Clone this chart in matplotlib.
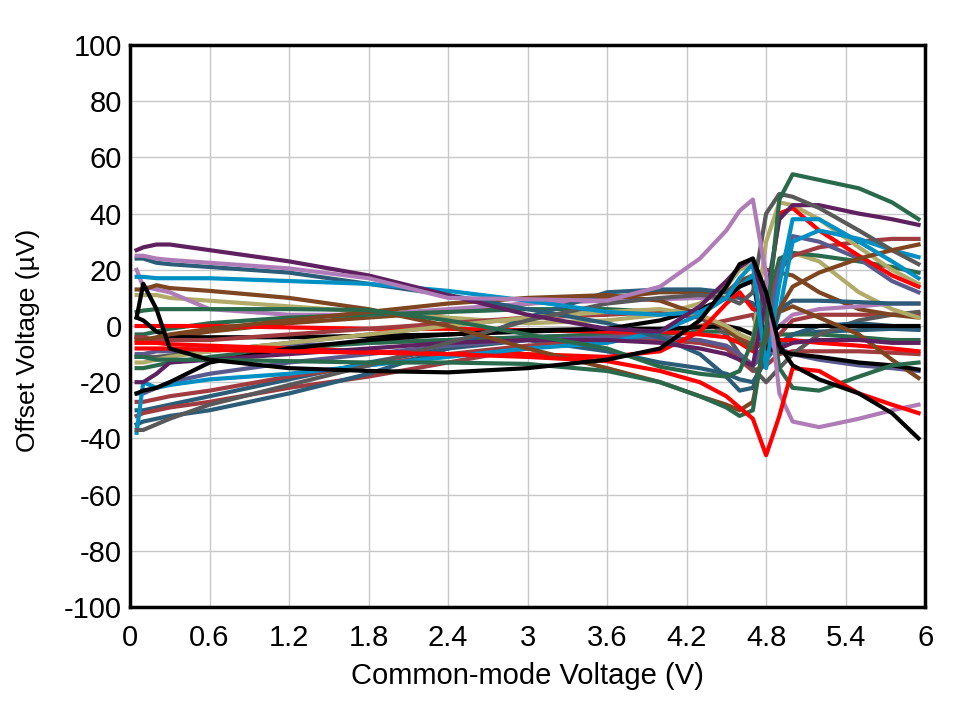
import matplotlib.pyplot as plt

# common-mode voltage sample points (V)
vcm = [0.05, 0.1, 0.2, 0.3, 0.6, 1.2, 1.8, 2.4, 3.0, 3.6, 4.0, 4.3,
       4.5, 4.6, 4.7, 4.8, 4.9, 5.0, 5.2, 5.5, 5.75, 5.95]

# offset voltage per unit (uV)
purple_a = [27, 28, 29, 29, 27, 23, 18, 11, 4, -1, -2, 7, 16, 21, 24, 5, -8, -6, -5, -5, -6, -6]
purple_b = [-20, -20, -17, -13, -12, -10, -8, -6, -5, -5, -6, -8, -10, -12, -14, 10, 38, 43, 43, 40, 38, 36]
mauve_a = [25, 25, 24, 23.5, 22.5, 20.5, 17, 10, 9.5, 9, 14, 24, 34, 41, 45, 18, -24, -34, -36, -33, -30, -28]
mauve_b = [20, 14, 13, 12, 6, 4, 4, 6, 8, 9, 9.5, 10, 10, 10, 8, -4, 0, 4, 6, 7, 8, 8]
teal_a = [24, 24, 22.5, 22, 21, 19, 15, 11, 6, 1, -4, -10, -18, -23, -22, -10, 6, 9, 9, 8.5, 8, 8]
teal_b = [-35, -34, -33, -32, -30, -24, -17, -8, 3, 12, 13, 13, 12, 10, 8, -5, -8, -3, 0, 1, 0, -1]
teal_c = [-30, -30, -29, -28, -25, -19, -13, -8, -5, -9, -13, -15, -17, -19, -20, -12, -6, -3, -2, -1.5, -1, -1.4]
cyan_a = [17.5, 17.5, 17, 17, 17, 16, 15, 12.5, 9, 5, 4, 5, 10, 17, 22, -15, 15, 38, 38, 30, 23, 17]
cyan_b = [-38, -20, -22, -21, -19, -17, -14, -11, -8, -6, -2, 4, 10, 14, 18, -12, 5, 30, 34, 31, 27, 24.5]
black_a = [3, 15, 6, -8, -12, -15, -16, -16.5, -15, -12, -8, 2, 14, 22, 24, 12, -7, -14, -19, -24, -31, -40]
black_b = [3, 2, -2, -4, -4, -4, -3.5, -3, -1.5, -1, -1, -0.5, 0, -1, -3, -5, 0, 0, 0, 0, 0, 0]
black_c = [-24, -23, -22, -20, -13, -8, -5, -3, -2, -1, 2, 6, 10, 14, 16, -8, -9, -10, -11, -13, -14, -15.5]
brown_a = [13, 13, 14.5, 13.5, 12.5, 10, 6, 0, -8, -15, -20, -25, -28, -30, -27, -4, 6, 14, 19, 24, 27, 29]
brown_b = [-5, -5, -4, -3, -1, 2, 5, 8, 10, 11, 9, 4, -1, -5, -8, -5, 5, 7, 3, -3, -12, -18.5]
brown_c = [-4, -5, -5, -4, -2, 1, 3, 5, 8, 10, 12, 12, 12, 16, 18, 20, 19, 18, 12, 6, 4, 3]
olive_a = [11, 11, 11, 10, 9, 7, 5, 3, 1, 2, 4, 8, 14, 20, 22, 8, 20, 26, 23, 12, 6, 3]
olive_b = [-13, -13, -12, -11, -9, -6, -3, 0, 3, 5, 6, 4, 0, -3, -5, 30, 44, 43, 38, 28, 20, 15]
green_a = [-11, -11, -12, -12, -12, -12.5, -13, -13, -13.5, -16, -20, -25, -29, -32, -30, 0, 45, 54, 52, 49, 44, 38]
green_b = [5, 5.5, 6, 6, 6, 6, 5.7, 2, -3, -8, -14.5, -17, -18, -16, -5, 16, -15, -22, -23, -18, -14, -13]
green_c = [-3, -3, -2, -1, 1, 3, 4, 5, 6, 6, 5, 3, 0, -3, -6, 5, 24, 26, 25, 23, 21, 19]
green_d = [-15, -15, -14, -13, -11, -8, -6, -5, -4, -3, -3, -2, -2, -4, -8, -6, -3, -3, -3, -4, -5, -5]
red_a = [-8, -8, -8, -8, -8.5, -9, -9.5, -10, -11, -12.5, -16, -20, -25, -29, -33, -46, -32, -15, -16, -24, -28, -31]
red_b = [0, 0, 0, 0, 0, -0.5, -1, -1, -1.5, -2, -2, -3, -4, -6, -9, -10, -5, -5, -6, -7, -8, -9]
red_c = [-6, -6, -6, -6.5, -7, -8, -9, -10, -10, -11, -9, -2, 8, 12, 6, 5, 40, 42, 34, 25, 18, 14]
gray_a = [-37, -37, -35, -33, -28, -21, -14, -6, 2, 8, 10, 11, 10, 8, 12, 40, 47, 46, 42, 34, 27, 22]
gray_b = [-11, -11, -11, -10.5, -9, -6, -3, 0, 3, 5, 5, 3, -3, -10, -15, -20, -15, -10, -3, 2, 4, 5]
maroon_a = [-4, -4, -5, -5, -5, -3, -1, 1, 3, 4, 5, 3, 0, -3, -8, 5, 20, 25, 28, 30, 31, 31]
maroon_b = [-27, -27, -26, -25, -23, -18, -14, -10, -7, -5, -5, -6, -8, -12, -16, -14, -10, -9, -9, -9, -9.5, -10]
maroon_c = [-32, -31, -30, -29, -27, -22, -18, -13, -8, -4, -2, 0, 2, 3, 4, -10, -3, 2, 4, 4, 4, 4]
slate_a = [-24, -24, -22, -20, -17, -13, -10, -7, -5, -4, -4, -5, -7, -10, -14, -5, 20, 32, 30, 24, 16, 12]
slate_b = [-10, -10, -9, -9, -8, -7, -6, -5, -4, -3, -4, -6, -8, -10, -14, -10, -8, -10, -12, -14, -15, -16]

xticks = [0, 0.6, 1.2, 1.8, 2.4, 3, 3.6, 4.2, 4.8, 5.4, 6]
xtick_labels = ['0', '0.6', '1.2', '1.8', '2.4', '3', '3.6', '4.2', '4.8', '5.4', '6']
yticks = list(range(-100, 101, 20))

purple = '#5F2060'
mauve = '#B07CB8'
teal = '#2B5C78'
cyan = '#0090C4'
black = '#000000'
brown = '#7D4520'
olive = '#B2AA68'
green = '#2A6A4C'
red = '#FF0000'
gray = '#595959'
maroon = '#A03C40'
slate = '#5A5A8E'

series = [
    (teal_c, teal), (slate_b, slate), (green_d, green), (maroon_b, maroon),
    (maroon_c, maroon), (gray_b, gray), (brown_c, brown), (olive_a, olive),
    (mauve_b, mauve), (green_c, green), (teal_b, teal), (red_b, red),
    (black_b, black), (maroon_a, maroon), (brown_b, brown), (slate_a, slate),
    (olive_b, olive), (red_c, red), (cyan_b, cyan), (teal_a, teal),
    (black_c, black), (purple_b, purple), (gray_a, gray), (brown_a, brown),
    (green_b, green), (cyan_a, cyan), (purple_a, purple), (mauve_a, mauve),
    (green_a, green), (red_a, red), (black_a, black),
]

plt.rcParams['font.family'] = ['Liberation Sans', 'DejaVu Sans']
plt.rcParams['axes.unicode_minus'] = False

fig = plt.figure(figsize=(9.58, 7.01), dpi=100)
ax = fig.add_axes([0.1357, 0.1341, 0.83, 0.8017])

for values, color in series:
    ax.plot(vcm, values, color=color, linewidth=3.0, solid_joinstyle='round')

ax.set_xlim(0, 6)
ax.set_ylim(-100, 100)
ax.set_xticks(xticks)
ax.set_xticklabels(xtick_labels)
ax.set_yticks(yticks)
ax.tick_params(length=0, labelsize=21)
ax.tick_params(axis='x', pad=12)
ax.tick_params(axis='y', pad=6)
ax.grid(True, color='#C8C8C8', linewidth=1)
ax.set_axisbelow(True)
for spine in ax.spines.values():
    spine.set_linewidth(2.5)
    spine.set_color('black')

ax.set_xlabel('Common-mode Voltage (V)', fontsize=21, va='center')
ax.set_ylabel('Offset Voltage (µV)', fontsize=19, va='center')
ax.xaxis.set_label_coords(0.5, -0.123)
ax.yaxis.set_label_coords(-0.128, 0.475)

fig.savefig('out.png', dpi=100)
